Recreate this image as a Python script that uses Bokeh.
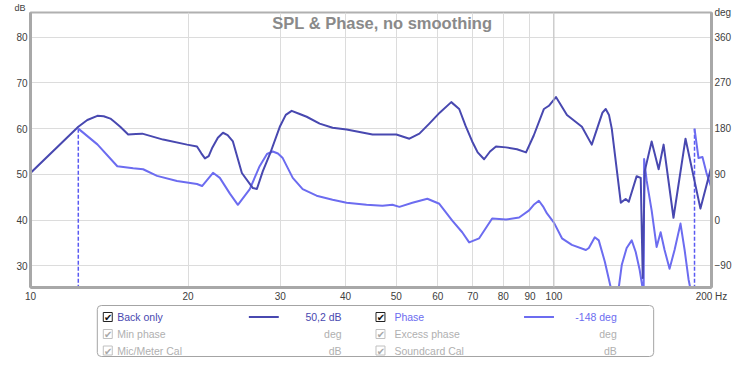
from bokeh.plotting import figure
from bokeh.models import Range1d, LinearAxis, FixedTicker, Label, Span, BoxAnnotation, Title
from bokeh.layouts import column
from bokeh.core.properties import value
from bokeh.embed import file_html
from bokeh.resources import INLINE

nan = float("nan")

# ---------------- data ----------------
spl_freq = [10.0, 12.34, 12.84, 13.42, 13.8, 14.21, 14.5, 14.84, 15.37, 15.9, 16.35, 17.92,
            19.91, 20.80, 21.2, 21.54, 21.9, 22.22, 22.8, 23.32, 23.8, 24.36, 25.34, 26.60,
            27.07, 27.79, 28.66, 29.94, 30.74, 31.55, 32.68, 33.70, 35.68, 37.77, 40.17,
            45.02, 50.0, 52.95, 55.33, 57.8, 60.5, 63.66, 65.92, 67.8, 69.8, 71.5, 73.56,
            75.5, 77.5, 81.0, 85.0, 88.45, 91.5, 95.7, 97.8, 100.9, 105.9, 113.1, 118.1,
            121.8, 123.8, 125.6, 127.4, 128.97, 134.2, 137.1, 139.0, 143.9, 146.5, 147.8,
            149.1, 153.7, 158.5, 162.0, 169.2, 178.4, 190.5, 200.0]
spl_db = [50.3, 60.4, 61.9, 62.8, 62.7, 62.2, 61.4, 60.4, 58.7, 58.8, 58.9, 57.6,
          56.5, 56.1, 54.6, 53.5, 54.0, 55.7, 58.0, 59.1, 58.6, 57.2, 50.3, 47.0,
          46.8, 50.7, 54.4, 60.4, 63.0, 63.9, 63.2, 62.6, 61.1, 60.2, 59.8,
          58.7, 58.7, 57.8, 58.9, 61.1, 63.5, 65.8, 64.3, 60.6, 57.2, 54.8, 53.3,
          55.0, 56.1, 55.9, 55.5, 54.8, 58.5, 64.3, 65.0, 66.9, 63.0, 60.4, 56.5,
          61.1, 63.5, 64.3, 63.0, 60.0, 43.8, 44.6, 44.0, 49.6, 49.2, 27.3,
          50.7, 57.2, 51.1, 56.5, 40.5, 57.8, 42.5, 51.8]

phase_freq = [12.34, 13.42, 14.65, 15.71, 16.41, 17.45, 19.05, 20.80, 21.27, 22.32, 23.0,
              24.04, 24.9, 26.24, 27.4, 28.3, 29.03, 29.7, 30.33, 31.7, 33.11, 35.2, 37.77,
              40.17, 43.85, 47.04, 49.14, 50.67, 53.65, 57.30, 60.4, 63.94, 66.8, 68.87,
              71.97, 76.2, 81.0, 85.8, 89.65, 91.5, 93.6, 95.3, 96.98, 100.0, 103.6, 108.2,
              115.1, 116.6, 119.7, 121.8, 125.1, 128.4, 130.7, 133.0, 134.8, 137.7, 140.8,
              143.3, 145.8, 148.4, 148.7, 150.4, 153.7, 157.1, 159.9, 162.7, 166.3, 170.0,
              174.5, 177.7, 180.8, 184.0, 185.6, nan, 185.6, 188.9, 192.2, 195.6, 200.0]
phase_deg = [180, 149, 106, 102, 100, 87, 77, 71, 67, 93, 83,
             52, 30, 61, 106, 130, 135, 131, 122, 83, 61, 48, 40,
             34, 30, 28, 30, 26, 34, 42, 32, -1, -24, -44,
             -36, 3, 1, 5, 19, 30, 38, 27, 13, -5, -36, -49,
             -59, -55, -34, -40, -82, -133, -156, -133, -88, -55, -40,
             -63, -98, -147, 120, 77, 19, -53, -24, -59, -96, -59,
             -7, -59, -117, -156, -180, nan, 180, 122, 124, 93, 63]

wrap_freq = [12.34, 185.6]
wrap_top = [180, 180]
wrap_bottom = [-180, -180]

x_ticks = [10, 20, 30, 40, 50, 60, 70, 80, 90, 100, 200]
x_tick_labels = ["10", "20", "30", "40", "50", "60", "70", "80", "90", "100", "200 Hz"]
db_ticks = [30, 40, 50, 60, 70, 80]
deg_ticks = [-90, 0, 90, 180, 270, 360]
db_unit = "dB"
deg_unit = "deg"

legend_left_labels = ["Back only", "Min phase", "Mic/Meter Cal"]
legend_left_values = ["50,2 dB", "deg", "dB"]
legend_right_labels = ["Phase", "Excess phase", "Soundcard Cal"]
legend_right_values = ["-148 deg", "deg", "dB"]

SPL_COLOR = "#4848b0"
PH_COLOR = "#6c6cf0"
FONT = "Liberation Sans"

DB_LO, DB_HI = 25.24, 85.41
DEG_LO, DEG_HI = (DB_LO - 40) * 9, (DB_HI - 40) * 9

# ---------------- main chart ----------------
p = figure(width=734, height=304, x_axis_type="log",
           x_range=Range1d(10, 200), y_range=Range1d(DB_LO, DB_HI),
           min_border_left=30, min_border_right=21, min_border_top=10, min_border_bottom=16,
           output_backend="svg", toolbar_location=None, title=None)
p.extra_y_ranges = {"ph": Range1d(DEG_LO, DEG_HI)}

p.outline_line_color = "#b0b0b0"
p.outline_line_width = 2
p.background_fill_color = "white"
p.border_fill_color = "white"

p.xaxis.ticker = FixedTicker(ticks=x_ticks)
p.xaxis.major_label_overrides = {t: l for t, l in zip(x_ticks, x_tick_labels)}
p.yaxis.ticker = FixedTicker(ticks=db_ticks)

deg_top = DEG_HI - 0.05
raxis = LinearAxis(y_range_name="ph", ticker=FixedTicker(ticks=deg_ticks + [deg_top]))
raxis.major_label_overrides = {deg_top: deg_unit}
p.add_layout(raxis, "right")

for ax in [p.xaxis[0], p.yaxis[0], raxis]:
    ax.major_tick_line_color = None
    ax.minor_tick_line_color = None
    ax.major_tick_out = 0
    ax.major_tick_in = 0
    ax.major_label_text_font = FONT
    ax.major_label_text_font_size = "10px"
    ax.major_label_text_color = "#404040"
    ax.major_label_standoff = 3
raxis.axis_line_color = None
p.xaxis.axis_line_color = "#a8a8a8"
p.xaxis.axis_line_width = 3
p.yaxis.axis_line_color = "#a8a8a8"
p.yaxis.axis_line_width = 3
p.xaxis.major_label_standoff = 3

p.xgrid.grid_line_color = "#dcdcdc"
p.ygrid.grid_line_color = "#dcdcdc"
p.add_layout(Span(location=100, dimension="height", line_color="#c2c2c2", line_width=1))

p.add_layout(Title(text=db_unit, align="left", offset=-16, standoff=0, text_font=FONT,
                   text_font_style="normal", text_font_size="9px", text_color="#404040"),
             "above")

p.segment(x0=wrap_freq, y0=wrap_top, x1=wrap_freq, y1=wrap_bottom, y_range_name="ph",
          line_color="#5a5af2", line_width=1.5, line_dash="4 2")
p.line(phase_freq, phase_deg, y_range_name="ph", line_color=PH_COLOR, line_width=2,
       line_join="round")
p.line(spl_freq, spl_db, line_color=SPL_COLOR, line_width=2, line_join="round")

p.add_layout(Label(x=47.0, y=83.2, text="SPL & Phase, no smoothing", text_font=FONT,
                   text_font_style="bold", text_font_size="16.5px", text_color="#8a8a8a",
                   text_align="center", text_baseline="middle"))

# ---------------- legend panel (data units == pixels) ----------------
leg = figure(width=734, height=53, x_range=Range1d(30, 713), y_range=Range1d(53, 0),
             min_border_left=30, min_border_right=21, min_border_top=0, min_border_bottom=0,
             x_axis_location=None, y_axis_location=None,
             output_backend="svg", toolbar_location=None, title=None)
leg.grid.visible = False
leg.outline_line_color = None

leg.add_layout(BoxAnnotation(left=97, right=655, top=1, bottom=52, fill_color=None,
                             line_color="#a4a4a4", line_alpha=1, line_width=1,
                             border_radius=4, level="underlay"))

rows = [12.5, 29.5, 46]
box_colors = ["#222222", "#c0c0c0", "#c0c0c0"]
check_colors = ["#111111", "#a8a8a8", "#a8a8a8"]
txt_gray = "#b0b0b0"

for cx, tx, vx, labels, vals, col in [
        (107.5, 117, 342, legend_left_labels, legend_left_values, SPL_COLOR),
        (381, 395, 618, legend_right_labels, legend_right_values, PH_COLOR)]:
    leg.rect(x=[cx] * 3, y=rows, width=9, height=9, fill_color="white",
             line_color=box_colors, line_width=1)
    leg.text(x=[cx + 0.5] * 3, y=[r + 0.5 for r in rows], text=["✔"] * 3,
             text_color=check_colors, text_font=value("DejaVu Sans"),
             text_font_size="10px", text_align="center", text_baseline="middle")
    leg.text(x=[tx] * 3, y=rows, text=labels, text_color=[col, txt_gray, txt_gray],
             text_font=value(FONT), text_font_size="10.5px", text_align="left",
             text_baseline="middle")
    leg.text(x=[vx] * 3, y=rows, text=vals, text_color=[col, txt_gray, txt_gray],
             text_font=value(FONT), text_font_size="10.5px", text_align="right",
             text_baseline="middle")

leg.segment(x0=[249, 525], y0=[rows[0]] * 2, x1=[279, 555], y1=[rows[0]] * 2,
            line_color=[SPL_COLOR, PH_COLOR], line_width=2)

layout = column(p, leg, spacing=0)
open("out.html", "w").write(file_html(layout, INLINE))
